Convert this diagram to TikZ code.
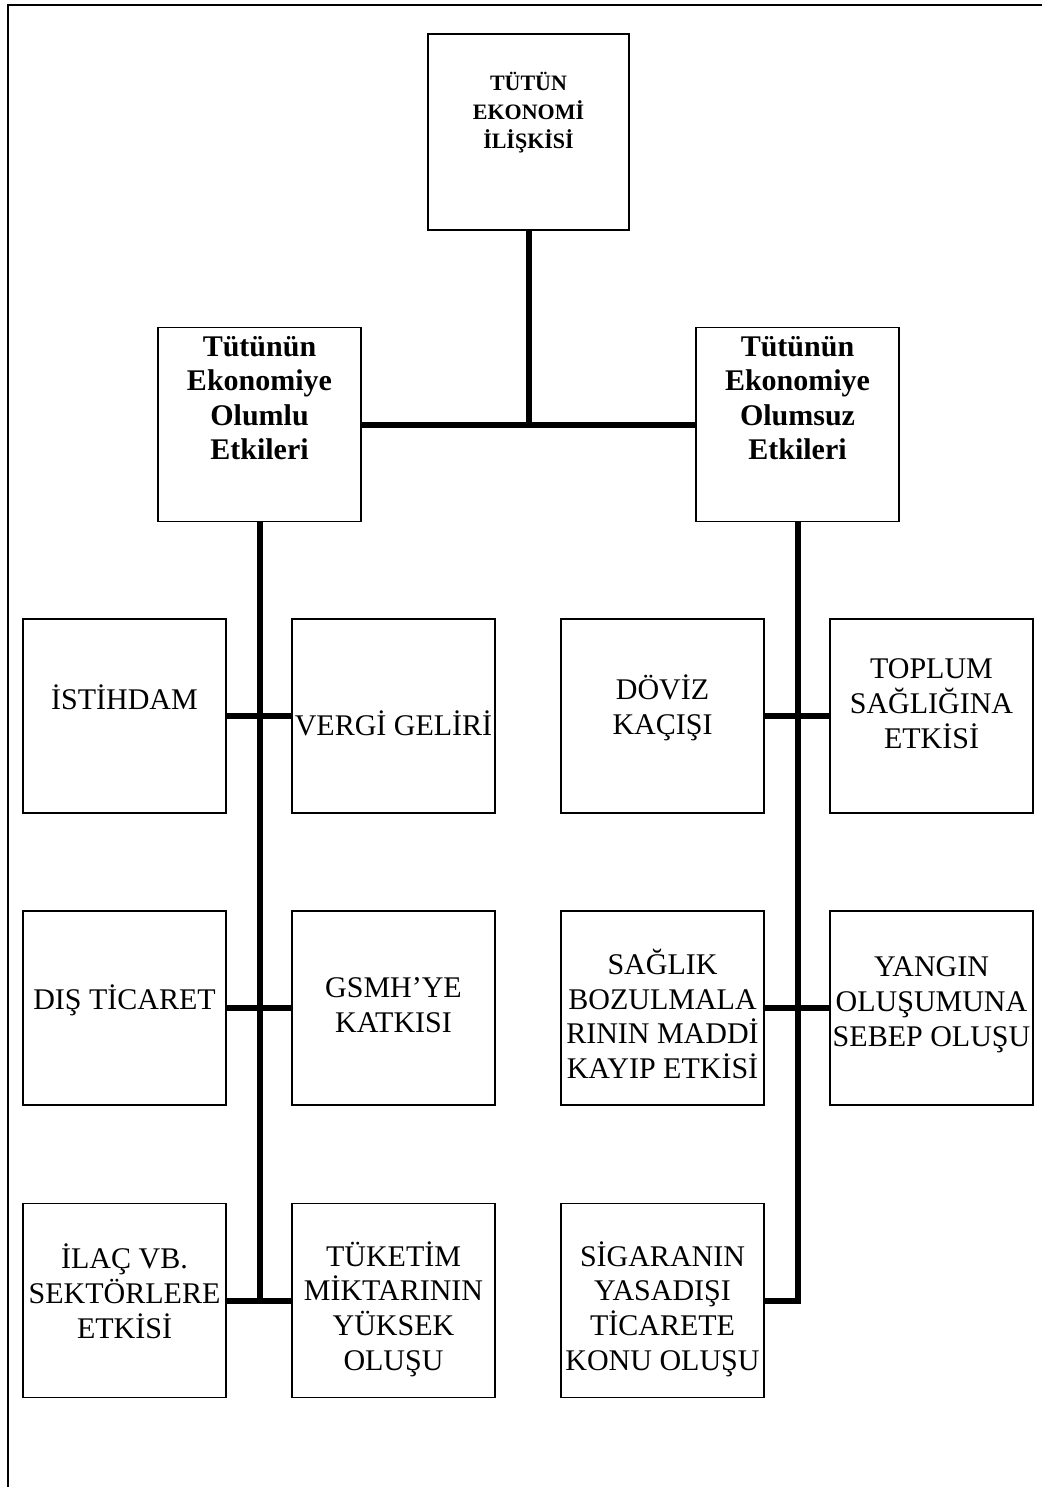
\documentclass[tikz,border=0pt]{standalone}
\usepackage{fontspec}
\setmainfont{Liberation Serif}
\tikzset{every picture/.style={line width=0.9pt}}
\tikzset{
  kutu/.style={draw, rectangle, inner sep=0pt, minimum width=101.5pt, minimum height=97pt},
  yazi/.style={inner sep=0pt, align=center, font=\fontsize{15}{17.4}\selectfont},
  baslik/.style={inner sep=0pt, align=center, font=\fontsize{15}{17.2}\selectfont\bfseries},
  hat/.style={line width=3pt, line join=miter},
}
\begin{document}
\begin{tikzpicture}[x=0.5pt,y=0.5pt,yscale=-1]
    \useasboundingbox (0,0) rectangle (1042,1487);
    \draw [line width=1.2pt] (8,1500) -- (8,5) -- (1060,5);

    \node [kutu, minimum width=100.5pt, minimum height=98pt] (kok) at (528.5,132) {};
    \node [kutu] (olumlu) at (259.5,424.5) {};
    \node [kutu] (olumsuz) at (797.5,424.5) {};

    \node [kutu] (istihdam) at (124.5,716) {};
    \node [kutu] (vergi) at (393.5,716) {};
    \node [kutu] (dis) at (124.5,1008) {};
    \node [kutu] (gsmh) at (393.5,1008) {};
    \node [kutu] (ilac) at (124.5,1300.5) {};
    \node [kutu] (tuketim) at (393.5,1300.5) {};

    \node [kutu] (doviz) at (662.5,716) {};
    \node [kutu] (toplum) at (931.5,716) {};
    \node [kutu] (saglik) at (662.5,1008) {};
    \node [kutu] (yangin) at (931.5,1008) {};
    \node [kutu] (sigara) at (662.5,1300.5) {};

    \draw [hat] (kok.south) -- (kok.south |- olumlu.east);
    \draw [hat] (olumlu.east) -- (olumsuz.west);
    \draw [hat] (olumlu.south) -- (olumlu.south |- ilac.east);
    \draw [hat] (istihdam.east) -- (vergi.west);
    \draw [hat] (dis.east) -- (gsmh.west);
    \draw [hat] (ilac.east) -- (tuketim.west);
    \draw [hat] (olumsuz.south) |- (sigara.east);
    \draw [hat] (doviz.east) -- (toplum.west);
    \draw [hat] (saglik.east) -- (yangin.west);

    \node [baslik, font=\fontsize{11}{14.5}\selectfont\bfseries] (kok-y) at (528.5,113) {TÜTÜN\\EKONOMİ\\İLİŞKİSİ};
    \node [baslik] (olumlu-y) at (259.5,398) {Tütünün\\Ekonomiye\\Olumlu\\Etkileri};
    \node [baslik] (olumsuz-y) at (797.5,398) {Tütünün\\Ekonomiye\\Olumsuz\\Etkileri};

    \node [yazi] (istihdam-y) at (124.5,697) {İSTİHDAM};
    \node [yazi] (vergi-y) at (393.5,723.5) {VERGİ GELİRİ};
    \node [yazi] (dis-y) at (124.5,1000.5) {DIŞ TİCARET};
    \node [yazi] (gsmh-y) at (393.5,1005) {GSMH’YE\\KATKISI};
    \node [yazi] (ilac-y) at (124.5,1291) {İLAÇ VB.\\SEKTÖRLERE\\ETKİSİ};
    \node [yazi] (tuketim-y) at (393.5,1309) {TÜKETİM\\MİKTARININ\\YÜKSEK\\OLUŞU};

    \node [yazi] (doviz-y) at (662.5,708) {DÖVİZ\\KAÇIŞI};
    \node [yazi] (toplum-y) at (931.5,703.5) {TOPLUM\\SAĞLIĞINA\\ETKİSİ};
    \node [yazi] (saglik-y) at (662.5,1014) {SAĞLIK\\BOZULMALA\\RININ MADDİ\\KAYIP ETKİSİ};
    \node [yazi] (yangin-y) at (931.5,1005) {YANGIN\\OLUŞUMUNA\\SEBEP OLUŞU};
    \node [yazi] (sigara-y) at (662.5,1309) {SİGARANIN\\YASADIŞI\\TİCARETE\\KONU OLUŞU};
\end{tikzpicture}
\end{document}
